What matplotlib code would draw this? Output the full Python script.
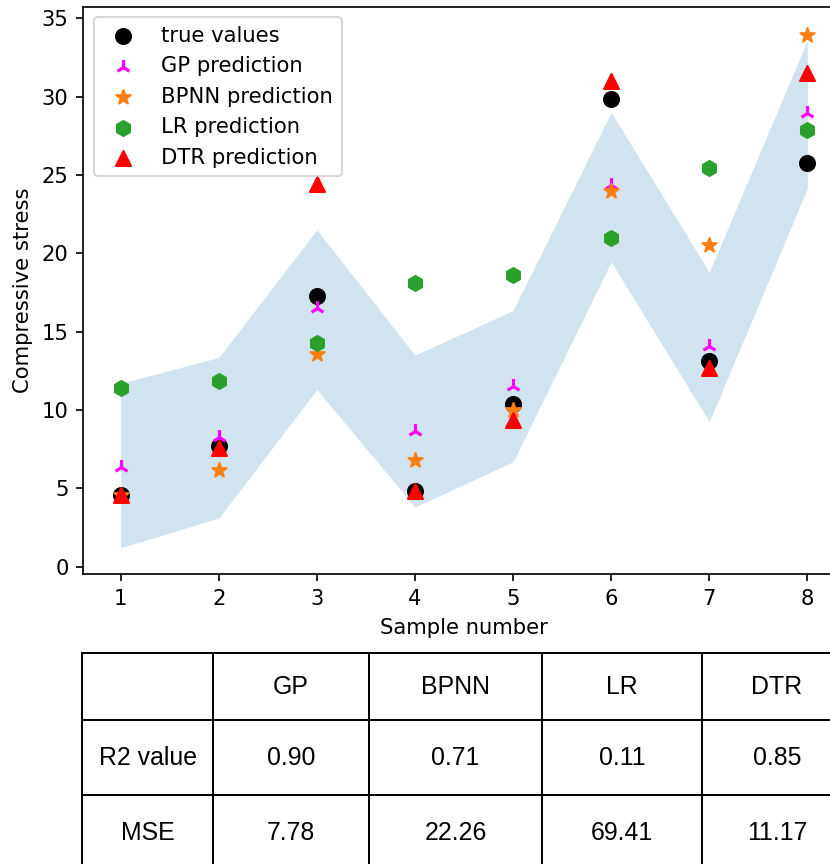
import matplotlib
matplotlib.use("Agg")
import matplotlib.pyplot as plt

# Sample indices
samples = [1, 2, 3, 4, 5, 6, 7, 8]

# Measured and predicted compressive stress
true_values = [4.6, 7.7, 17.25, 4.85, 10.4, 29.85, 13.1, 25.75]
gp_pred = [6.35, 8.25, 16.5, 8.65, 11.5, 24.35, 14.1, 28.95]
bpnn_pred = [4.6, 6.15, 13.55, 6.8, 10.0, 23.95, 20.5, 33.95]
lr_pred = [11.4, 11.85, 14.25, 18.1, 18.6, 21.0, 25.45, 27.85]
dtr_pred = [4.6, 7.6, 24.4, 4.8, 9.35, 31.0, 12.65, 31.5]

# GP confidence band
gp_lower = [1.2, 3.1, 11.3, 3.8, 6.7, 19.45, 9.25, 24.15]
gp_upper = [11.7, 13.35, 21.5, 13.5, 16.35, 29.0, 18.8, 33.6]

# Error metrics table
model_names = ["GP", "BPNN", "LR", "DTR"]
r2_values = ["0.90", "0.71", "0.11", "0.85"]
mse_values = ["7.78", "22.26", "69.41", "11.17"]

W, H, DPI = 830, 864, 152
fig = plt.figure(figsize=(W / DPI, H / DPI), dpi=DPI)

ax = fig.add_axes([0.1004, 0.3353, 0.9173, 0.6569])
ax.fill_between(samples, gp_lower, gp_upper, color="#1f77b4", alpha=0.2, linewidth=0)
ms = 50
ax.scatter(samples, true_values, s=ms, marker="o", color="black", label="true values")
ax.scatter(samples, gp_pred, s=ms, marker="2", color="magenta", label="GP prediction")
ax.scatter(samples, bpnn_pred, s=ms, marker="*", color="#ff7f0e", label="BPNN prediction")
ax.scatter(samples, lr_pred, s=ms, marker="h", color="#2ca02c", label="LR prediction")
ax.scatter(samples, dtr_pred, s=ms, marker="^", color="red", label="DTR prediction")

ax.set_xlim(0.62, 8.38)
ax.set_ylim(-0.49, 35.74)
ax.set_xticks(samples)
ax.set_xlabel("Sample number")
ax.set_ylabel("Compressive stress")
ax.legend(loc="upper left")

# Metrics table beneath the plot
tax = fig.add_axes([0.0988, -0.0081, 0.9277, 0.2523])
tax.axis("off")
cell_text = [[""] + model_names,
             ["R2 value"] + r2_values,
             ["MSE"] + mse_values]
table = tax.table(cellText=cell_text, cellLoc="center", bbox=[0, 0, 1, 1])
table.auto_set_font_size(False)
col_w = [131, 156, 173, 160, 150]
row_h = [67, 75, 76]
for (r, c), cell in table.get_celld().items():
    cell.set_width(col_w[c])
    cell.set_height(row_h[r])
    cell.set_linewidth(0.95)
    cell.set_edgecolor("black")
    txt = cell.get_text()
    txt.set_fontfamily("Liberation Sans")
    txt.set_fontsize(11.8)

fig.savefig("out.png", dpi=DPI)
